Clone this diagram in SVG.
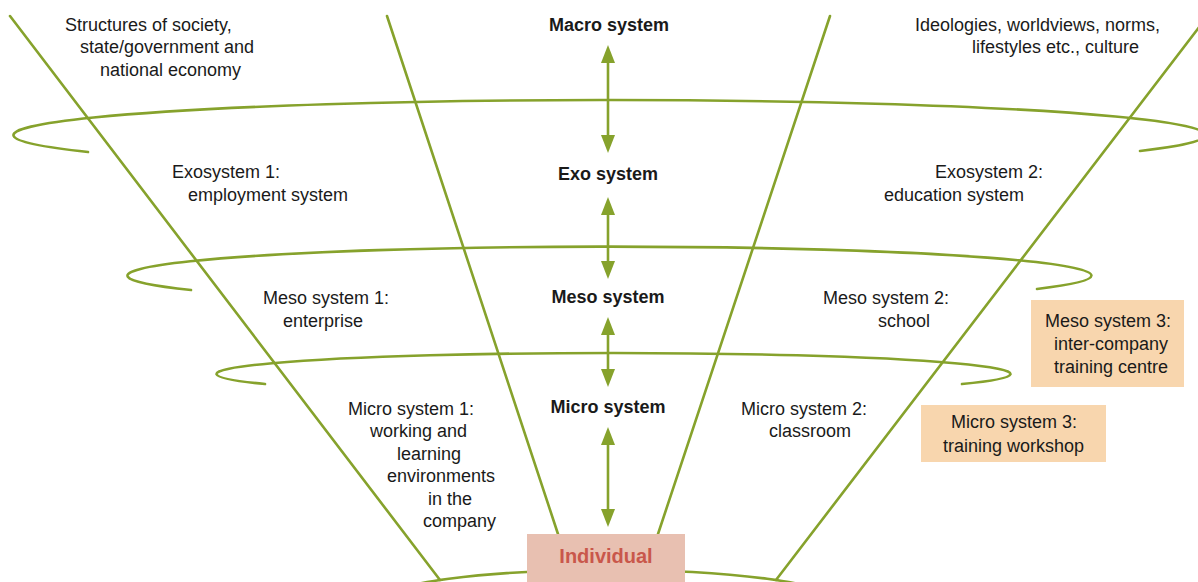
<svg xmlns="http://www.w3.org/2000/svg" width="1198" height="582" viewBox="0 0 1198 582">
<style>
.g{fill:none;stroke:#86a22c;stroke-width:2.6;stroke-linecap:round}
.ar{fill:none;stroke:#86a22c;stroke-width:2.6;marker-start:url(#ah);marker-end:url(#ah)}
text{font-family:"Liberation Sans",Arial,sans-serif;font-size:18px;fill:#1a1a1a}
.b{font-weight:bold;text-anchor:middle}
.box{fill:#f8d6ae}
</style>
<defs>
<marker id="ah" viewBox="0 0 18 14" refX="2" refY="7" markerWidth="18" markerHeight="14" markerUnits="userSpaceOnUse" orient="auto-start-reverse">
<path d="M0,0 L18,7 L0,14 z" fill="#86a22c"/>
</marker>
</defs>
<g id="structure">
<path class="g" d="M88,152 A596,35 0 1 1 1140,151"/>
<path class="g" d="M191,290 A482,29 0 1 1 1037,289"/>
<path class="g" d="M265,384 A397,21 0 1 1 962,384"/>
<ellipse class="g" cx="608" cy="600" rx="225" ry="30"/>
<line class="g" x1="10" y1="16" x2="440" y2="580"/>
<line class="g" x1="387" y1="16" x2="558" y2="534"/>
<line class="g" x1="830" y1="16" x2="658" y2="534"/>
<line class="g" x1="1200" y1="26" x2="776" y2="580"/>
</g>
<g id="connectors">
<line class="ar" x1="608" y1="61" x2="608" y2="137"/>
<line class="ar" x1="608" y1="213" x2="608" y2="263"/>
<line class="ar" x1="608" y1="333" x2="608" y2="371"/>
<line class="ar" x1="608" y1="443" x2="608" y2="511"/>
</g>
<g id="macro-left"><text x="65" y="31">Structures of society,</text><text x="80" y="53">state/government and</text><text x="100" y="76">national economy</text></g>
<g id="macro-right"><text x="915" y="31">Ideologies, worldviews, norms,</text><text x="972" y="53">lifestyles etc., culture</text></g>
<g id="macro"><text class="b" x="609" y="31">Macro system</text></g>
<g id="exo"><text class="b" x="608" y="180">Exo system</text></g>
<g id="meso"><text class="b" x="608" y="303">Meso system</text></g>
<g id="micro"><text class="b" x="608" y="413">Micro system</text></g>
<g id="exo1"><text x="172" y="178">Exosystem 1:</text><text x="188" y="201">employment system</text></g>
<g id="exo2"><text x="935" y="178">Exosystem 2:</text><text x="884" y="201">education system</text></g>
<g id="meso1"><text x="263" y="304">Meso system 1:</text><text x="283" y="327">enterprise</text></g>
<g id="meso2"><text x="823" y="304">Meso system 2:</text><text x="878" y="327">school</text></g>
<g id="micro1"><text x="348" y="415">Micro system 1:</text><text x="370" y="437">working and</text><text x="397" y="460">learning</text><text x="387" y="482">environments</text><text x="428" y="505">in the</text><text x="423" y="527">company</text></g>
<g id="micro2"><text x="741" y="415">Micro system 2:</text><text x="769" y="437">classroom</text></g>
<g id="meso3"><rect class="box" x="1031" y="300" width="153" height="87"/><text x="1045" y="327">Meso system 3:</text><text x="1054" y="350">inter-company</text><text x="1054" y="373">training centre</text></g>
<g id="micro3"><rect class="box" x="921" y="405" width="185" height="57"/><text x="951" y="428">Micro system 3:</text><text x="943" y="452">training workshop</text></g>
<g id="individual"><rect x="527" y="534" width="158" height="48" fill="#e8c0b1"/><text class="b" x="606" y="563" style="fill:#c9574b;font-size:20px">Individual</text></g>
</svg>
